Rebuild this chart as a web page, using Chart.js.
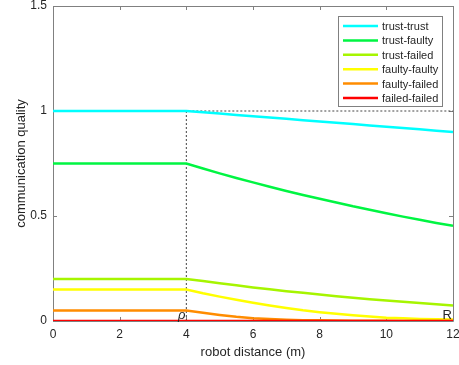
<!DOCTYPE html>
<html>
<head>
<meta charset="utf-8">
<script src="https://cdn.jsdelivr.net/npm/chart.js@4"></script>
<style>
  body { margin: 0; background: #fff; }
  canvas { display: block; }
</style>
</head>
<body>
<canvas id="myChart" width="459" height="365"></canvas>
<script>
// values
const distance = [0, 4, 4.5, 5, 5.5, 6, 6.5, 7, 7.5, 8, 8.5, 9, 9.5, 10, 10.5, 11, 11.5, 12];
const trustTrust   = [1, 1, 0.994, 0.988, 0.981, 0.975, 0.969, 0.963, 0.956, 0.95, 0.944, 0.938, 0.931, 0.925, 0.919, 0.913, 0.906, 0.9];
const trustFaulty  = [0.75, 0.75, 0.726, 0.703, 0.681, 0.66, 0.639, 0.619, 0.6, 0.582, 0.564, 0.546, 0.53, 0.513, 0.497, 0.482, 0.467, 0.453];
const trustFailed  = [0.2, 0.2, 0.19, 0.18, 0.17, 0.16, 0.151, 0.142, 0.134, 0.126, 0.118, 0.111, 0.104, 0.098, 0.092, 0.086, 0.08, 0.074];
const faultyFaulty = [0.15, 0.15, 0.132, 0.116, 0.101, 0.087, 0.074, 0.062, 0.051, 0.042, 0.034, 0.027, 0.021, 0.016, 0.013, 0.01, 0.008, 0.007];
const faultyFailed = [0.05, 0.05, 0.039, 0.029, 0.02, 0.013, 0.009, 0.006, 0.004, 0.003, 0.002, 0.001, 0.001, 0.001, 0, 0, 0, 0];
const failedFailed = [0, 0, 0, 0, 0, 0, 0, 0, 0, 0, 0, 0, 0, 0, 0, 0, 0, 0];

const seriesNames = ['trust-trust', 'trust-faulty', 'trust-failed', 'faulty-faulty', 'faulty-failed', 'failed-failed'];
const seriesValues = [trustTrust, trustFaulty, trustFailed, faultyFaulty, faultyFailed, failedFailed];
const seriesColors = ['#00ffff', '#00f542', '#a6f500', '#ffff00', '#ff8c00', '#ff0000'];

// dotted guide: rho = 4, R = 12, quality 1
const guideX = [4, 4, 12];
const guideY = [0, 1, 1];

const xTicks = [0, 2, 4, 6, 8, 10, 12];
const yTicks = [0, 0.5, 1, 1.5];

const FONT = "'Liberation Sans', Arial, sans-serif";
const ctx = document.getElementById('myChart').getContext('2d');

const pts = (xs, ys) => xs.map((x, i) => ({x: x, y: ys[i]}));

const datasets = seriesNames.map((name, i) => ({
    label: name,
    data: pts(distance, seriesValues[i]),
    borderColor: seriesColors[i],
    borderWidth: 2.5,
    pointRadius: 0,
    tension: 0,
    fill: false,
    order: seriesNames.length - i
}));
datasets.push({
    label: 'guide',
    data: pts(guideX, guideY),
    borderColor: '#444',
    borderWidth: 1,
    borderDash: [2, 2],
    pointRadius: 0,
    fill: false,
    order: 10
});

// matlab style box, inward ticks, annotations and legend
const matlabAxes = {
    id: 'matlabAxes',
    beforeDatasetsDraw(chart) {
        const {ctx, chartArea: {left, top, right, bottom}, scales: {x, y}} = chart;
        ctx.save();
        ctx.strokeStyle = '#808080';
        ctx.lineWidth = 1;
        ctx.beginPath();
        ctx.rect(Math.round(left) + 0.5, Math.round(top) + 0.5, Math.round(right - left), Math.round(bottom - top));
        xTicks.forEach(v => {
            const p = Math.round(x.getPixelForValue(v)) + 0.5;
            ctx.moveTo(p, bottom); ctx.lineTo(p, bottom - 4);
            ctx.moveTo(p, top); ctx.lineTo(p, top + 4);
        });
        yTicks.forEach(v => {
            const p = Math.round(y.getPixelForValue(v)) + 0.5;
            ctx.moveTo(left, p); ctx.lineTo(left + 4, p);
            ctx.moveTo(right, p); ctx.lineTo(right - 4, p);
        });
        ctx.stroke();
        ctx.restore();
    },
    afterDatasetsDraw(chart) {
        const {ctx, scales: {x, y}} = chart;
        ctx.save();
        ctx.fillStyle = '#262626';
        ctx.textBaseline = 'alphabetic';
        ctx.textAlign = 'right';
        ctx.font = 'italic 13px ' + FONT;
        ctx.fillText('\u03c1', x.getPixelForValue(guideX[0]) - 1, y.getPixelForValue(0) - 2);
        ctx.font = '13px ' + FONT;
        ctx.fillText('R', x.getPixelForValue(guideX[2]) - 1, y.getPixelForValue(0) - 2);

        // legend
        const bx = 338, by = 16, bw = 104, bh = 90;
        ctx.fillStyle = '#fff';
        ctx.fillRect(bx, by, bw, bh);
        ctx.strokeStyle = '#808080';
        ctx.lineWidth = 1;
        ctx.strokeRect(bx + 0.5, by + 0.5, bw, bh);
        ctx.font = '11px ' + FONT;
        ctx.textAlign = 'left';
        ctx.textBaseline = 'middle';
        seriesNames.forEach((name, i) => {
            const ly = by + 10 + i * 14.4;
            ctx.strokeStyle = seriesColors[i];
            ctx.lineWidth = 2.5;
            ctx.beginPath();
            ctx.moveTo(bx + 5, ly);
            ctx.lineTo(bx + 40, ly);
            ctx.stroke();
            ctx.fillStyle = '#262626';
            ctx.fillText(name, bx + 44, ly + 1);
        });
        ctx.restore();
    }
};

const chart = new Chart(ctx, {
    type: 'line',
    data: {datasets: datasets},
    options: {
        responsive: false,
        animation: false,
        layout: {padding: {top: 6, right: 6, left: 0, bottom: 0}},
        plugins: {
            legend: {display: false},
            tooltip: {enabled: false}
        },
        scales: {
            x: {
                type: 'linear',
                min: 0,
                max: 12,
                afterFit: s => { s.height = 44; s.paddingLeft = 0; s.paddingRight = 0; },
                afterBuildTicks: s => { s.ticks = xTicks.map(v => ({value: v})); },
                grid: {display: false, drawTicks: false},
                border: {display: false},
                ticks: {color: '#262626', font: {family: FONT, size: 12}, padding: 6, maxRotation: 0},
                title: {display: true, text: 'robot distance (m)', color: '#262626',
                        font: {family: FONT, size: 13}, padding: {top: 0, bottom: 5}}
            },
            y: {
                min: 0,
                max: 1.5,
                afterFit: s => { s.width = 53; s.paddingTop = 0; s.paddingBottom = 0; },
                afterBuildTicks: s => { s.ticks = yTicks.map(v => ({value: v})); },
                grid: {display: false, drawTicks: false},
                border: {display: false},
                ticks: {color: '#262626', font: {family: FONT, size: 12}, padding: 6,
                        callback: v => String(v)},
                title: {display: true, text: 'communication quality', color: '#262626',
                        font: {family: FONT, size: 13}, padding: {top: 14, bottom: 0}}
            }
        }
    },
    plugins: [matlabAxes]
});
</script>
</body>
</html>
